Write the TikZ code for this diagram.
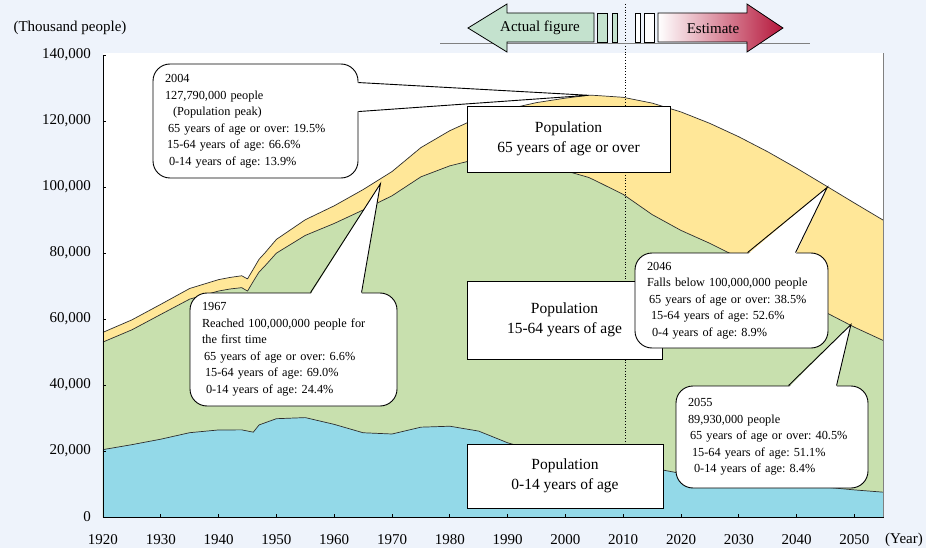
\documentclass[tikz,border=0pt]{standalone}
\usepackage{fontspec}
\setmainfont{Liberation Serif}
\usetikzlibrary{positioning, calc}
\definecolor{bgcol}{RGB}{238,243,251}
\definecolor{oldcol}{RGB}{255,231,152}
\definecolor{workcol}{RGB}{200,224,174}
\definecolor{childcol}{RGB}{147,217,232}
\definecolor{actualcol}{RGB}{196,226,206}
\definecolor{estcol}{RGB}{181,22,58}
\definecolor{edgecol}{RGB}{45,45,45}

% population, millions
\def\totlist{1920/55.96, 1925/59.74, 1930/64.45, 1935/69.25, 1940/71.93, 1942/72.6, 1944/73.1, 1945/72.15, 1946/75.1, 1947/78.10, 1948/80.0, 1950/84.12, 1955/90.08, 1960/94.30, 1965/99.21, 1970/104.67, 1975/111.94, 1980/117.06, 1985/121.05, 1990/123.61, 1995/125.57, 2000/126.93, 2004/127.79, 2005/127.77, 2010/127.18, 2015/125.43, 2020/122.74, 2025/119.27, 2030/115.22, 2035/110.68, 2040/105.70, 2045/100.44, 2050/95.15, 2055/89.93}
\def\worklist{1920/53.02, 1925/56.72, 1930/61.39, 1935/66.03, 1940/68.48, 1942/69.1, 1944/69.5, 1945/68.45, 1946/71.4, 1947/74.23, 1948/76.05, 1950/79.96, 1955/85.33, 1960/88.95, 1965/93.03, 1970/97.33, 1975/103.08, 1980/106.41, 1985/108.58, 1990/108.72, 1995/107.31, 2000/104.92, 2004/102.91, 2005/102.10, 2010/97.76, 2015/91.65, 2020/86.84, 2025/82.92, 2030/78.55, 2035/73.43, 2040/67.17, 2045/62.04, 2050/57.51, 2055/53.47}
\def\childlist{1920/20.42, 1925/21.92, 1930/23.58, 1935/25.55, 1940/26.38, 1944/26.40, 1946/25.7, 1947/27.9, 1950/29.79, 1955/30.12, 1960/28.07, 1965/25.53, 1970/25.15, 1975/27.22, 1980/27.51, 1985/26.03, 1990/22.49, 1995/20.01, 2000/18.47, 2005/17.52, 2010/16.48, 2015/14.84, 2020/13.20, 2025/11.96, 2030/11.15, 2035/10.51, 2040/9.83, 2045/9.04, 2050/8.21, 2055/7.52}

\begin{document}
\begin{tikzpicture}[
			x=1pt, y=-1pt,
			font=\fontsize{15}{18}\selectfont,
			area line/.style={
				draw=edgecol,
				line width=0.7pt,
				line join=round
			},
			popbox/.style={
				draw=black,
				fill=white,
				line width=0.9pt,
				inner sep=0pt,
				align=center,
				font=\fontsize{15.5}{20}\selectfont
			},
			callbox/.style={
				draw=black,
				fill=white,
				line width=0.9pt,
				rounded corners=17pt,
				inner xsep=12pt,
				inner ysep=0pt,
				align=left,
				execute at begin node=\frenchspacing,
				font=\fontsize{12.3}{16.5}\selectfont
			},
			callwedge/.style={
				draw=black,
				line width=0.9pt
			},
			banner/.style={
				draw=black,
				line width=0.8pt
			}
			]
			\useasboundingbox (0,0) rectangle (926,548);
			\fill[bgcol] (0,0) rectangle (926,548);
			\fill[white] (103,53) rectangle (884,517);
			
			% Areas
			\begin{scope}[x=5.78pt, y=3.3pt, xshift=-10994.6pt, yshift=-517pt]
			\fill[oldcol] (1920,0) foreach \yr/\pp in \totlist {-- (\yr,\pp)} -- (2055.1,0) -- cycle;
			\fill[workcol] (1920,0) foreach \yr/\pp in \worklist {-- (\yr,\pp)} -- (2055.1,0) -- cycle;
			\fill[childcol] (1920,0) foreach \yr/\pp in \childlist {-- (\yr,\pp)} -- (2055.1,0) -- cycle;
			\draw[area line] (1920,55.96) foreach \yr/\pp in \totlist {-- (\yr,\pp)};
			\draw[area line] (1920,53.02) foreach \yr/\pp in \worklist {-- (\yr,\pp)};
			\draw[area line] (1920,20.42) foreach \yr/\pp in \childlist {-- (\yr,\pp)};
			
			\coordinate (peak) at (2004,127.79);
			\coordinate (reach100) at (1968,101.0);
			\coordinate (below100) at (2045.3,99.9);
			\coordinate (end2055) at (2049.4,58.3);
			
			% Axes
			\draw[gray, line width=0.8pt] (2055.1,0) -- (2055.1,140.6);
			\draw[black, line width=0.9pt] (1920,140) -- (1920,0) -- (2055.1,0);
			\foreach \pp/\lab in {0/0, 20/{20,000}, 40/{40,000}, 60/{60,000}, 80/{80,000}, 100/{100,000}, 120/{120,000}, 140/{140,000}} {
				\draw[line width=0.8pt] (1920,\pp) -- ++(0.55,0);
				\node[anchor=east, inner sep=0pt] (ylab\pp) at ([xshift=-12pt]1920,\pp) {\lab};
			}
			\foreach \yr in {1930,1940,...,2050}
				\draw[line width=0.8pt] (\yr,0) -- ++(0,0.95);
			\foreach \yr in {1920,1930,...,2050}
				\node[inner sep=0pt] (xlab\yr) at ([yshift=-23pt]\yr,0) {\yr};
			\end{scope}
			
			\node[inner sep=0pt] (yunit) at (70,28) {(Thousand people)};
			\node[inner sep=0pt] (xunit) at (904,540) {(Year)};
			
			% Boundary of actual and estimate
			\coordinate (splittop) at (625.5,4);
			\coordinate (splitbot) at (625.5,444);
			\draw[dotted, line width=0.8pt] (splittop) -- (splitbot);
			
			% Age group boxes
			\node[popbox, minimum width=203pt, minimum height=66pt] (boxold) at (568.5,139) {Population\\65 years of age or over};
			\node[popbox, minimum width=195pt, minimum height=78pt] (boxwork) at (564.5,320) {Population\\15-64 years of age};
			\node[popbox, minimum width=196pt, minimum height=64pt] (boxchild) at (565,476) {Population\\0-14 years of age};
			
			% Callouts
			\node[callbox, text width=181pt, minimum height=114pt] (call2004) at (255.5,121) {2004\\127,790,000 people\\\hspace*{8pt}(Population peak)\\\hspace*{3pt}65 years of age or over: 19.5\%\\\hspace*{2pt}15-64 years of age: 66.6\%\\\hspace*{4pt}0-14 years of age: 13.9\%};
			\fill[white] ([xshift=-2pt, yshift=-19pt]call2004.north east) -- (peak) -- ([xshift=-2pt, yshift=-48pt]call2004.north east) -- cycle;
			\draw[callwedge] ([yshift=-19pt]call2004.north east) -- (peak) -- ([yshift=-48pt]call2004.north east);
			
			\node[callbox, text width=183pt, minimum height=113pt] (call1967) at (293.5,349.5) {1967\\Reached 100,000,000 people for\\the first time\\\hspace*{2pt}65 years of age or over: 6.6\%\\\hspace*{3pt}15-64 years of age: 69.0\%\\\hspace*{4pt}0-14 years of age: 24.4\%};
			\fill[white] ([xshift=121pt, yshift=-2pt]call1967.north west) -- (reach100) -- ([xshift=172pt, yshift=-2pt]call1967.north west) -- cycle;
			\draw[callwedge] ([xshift=121pt]call1967.north west) -- (reach100) -- ([xshift=172pt]call1967.north west);
			
			\node[callbox, text width=169pt, minimum height=95pt] (call2046) at (731.5,300.5) {2046\\Falls below 100,000,000 people\\\hspace*{2pt}65 years of age or over: 38.5\%\\\hspace*{4pt}15-64 years of age: 52.6\%\\\hspace*{5pt}0-4 years of age: 8.9\%};
			\fill[white] ([xshift=113pt, yshift=-2pt]call2046.north west) -- (below100) -- ([xshift=161pt, yshift=-2pt]call2046.north west) -- cycle;
			\draw[callwedge] ([xshift=113pt]call2046.north west) -- (below100) -- ([xshift=161pt]call2046.north west);
			
			\node[callbox, text width=168pt, minimum height=102pt] (call2055) at (772,437) {2055\\89,930,000 people\\\hspace*{2pt}65 years of age or over: 40.5\%\\\hspace*{4pt}15-64 years of age: 51.1\%\\\hspace*{6pt}0-14 years of age: 8.4\%};
			\fill[white] ([xshift=113pt, yshift=-2pt]call2055.north west) -- (end2055) -- ([xshift=161pt, yshift=-2pt]call2055.north west) -- cycle;
			\draw[callwedge] ([xshift=113pt]call2055.north west) -- (end2055) -- ([xshift=161pt]call2055.north west);
			
			% Banner
			\draw[gray, line width=0.8pt] (440,43.5) -- (810,43.5);
			\filldraw[banner, fill=actualcol] (468,28) -- (507,4) -- (507,13) -- (594,13) -- (594,42) -- (507,42) -- (507,52) -- cycle;
			\filldraw[banner, fill=actualcol] (597,13) rectangle (607,42);
			\filldraw[banner, fill=actualcol] (612,13) rectangle (617,42);
			\filldraw[banner, fill=white] (635,13) rectangle (640,42);
			\filldraw[banner, fill=white] (644,13) rectangle (654,42);
			\shadedraw[banner, left color=white, middle color=estcol!30, right color=estcol] (658,13) -- (747,13) -- (747,4) -- (783,28) -- (747,52) -- (747,42) -- (658,42) -- cycle;
			\node[inner sep=0pt] (actual) at (540,28) {Actual figure};
			\node[inner sep=0pt] (estimate) at (713,29) {Estimate};
		\end{tikzpicture}
\end{document}
